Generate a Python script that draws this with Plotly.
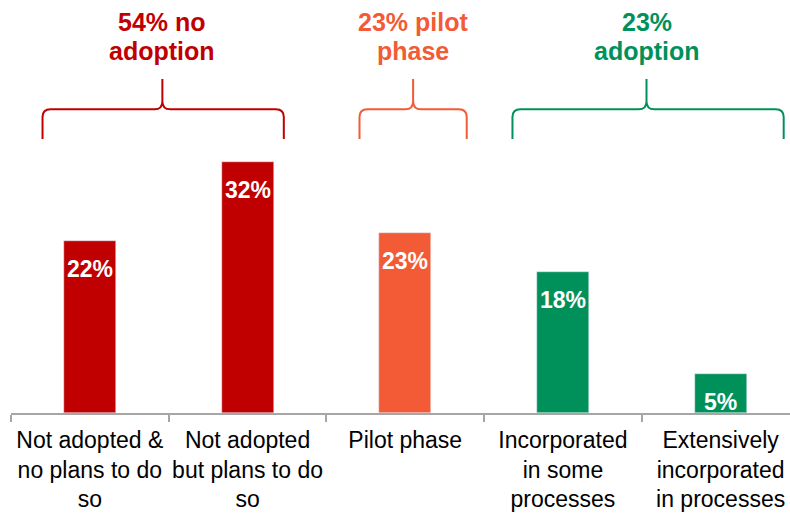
import plotly.graph_objects as go

# ---- data ----
categories = [
    "Not adopted &<br>no plans to do<br>so",
    "Not adopted<br>but plans to do<br>so",
    "Pilot phase",
    "Incorporated<br>in some<br>processes",
    "Extensively<br>incorporated<br>in processes",
]
values = [22, 32, 23, 18, 5]
bar_colors = ["#C00000", "#C00000", "#F25B36", "#00915A", "#00915A"]

group_line1 = ["54% no", "23% pilot", "23%"]
group_line2 = ["adoption", "phase", "adoption"]
group_colors = ["#C00000", "#F25B36", "#00915A"]
# brace extents in category units: (left, peak, right)
group_braces = [(-0.30, 0.46, 1.23), (1.71, 2.05, 2.39), (2.68, 3.53, 4.40)]

FONT = "Liberation Sans, Arial, sans-serif"

fig = go.Figure()
fig.add_trace(go.Bar(
    x=categories, y=values, marker_color=bar_colors, width=0.33,
    hoverinfo="skip", showlegend=False,
))

# value labels inside bars
for i, v in enumerate(values):
    fig.add_annotation(
        x=i, y=v, xref="x", yref="y", text=f"<b>{v}%</b>", showarrow=False,
        yanchor="top", yshift=-13,
        font=dict(family=FONT, size=23, color="white"),
    )

# braces and group labels
yb, yh, ypk = 35.0, 38.8, 42.65
rx, ry = 0.05, 1.0
for (x0, xp, x1), t1, t2, col in zip(group_braces, group_line1, group_line2, group_colors):
    path = (
        f"M {x0},{yb} L {x0},{yh-ry} Q {x0},{yh} {x0+rx},{yh} "
        f"L {xp-rx},{yh} Q {xp},{yh} {xp},{yh+ry} L {xp},{ypk} "
        f"M {xp},{yh+ry} Q {xp},{yh} {xp+rx},{yh} "
        f"L {x1-rx},{yh} Q {x1},{yh} {x1},{yh-ry} L {x1},{yb}"
    )
    fig.add_shape(type="path", path=path, xref="x", yref="y",
                  line=dict(color=col, width=2))
    fig.add_annotation(x=xp, y=51.8, xref="x", yref="y", text=f"<b>{t1}</b>",
                       showarrow=False, yanchor="top", borderpad=0,
                       font=dict(family=FONT, size=25, color=col))
    fig.add_annotation(x=xp, y=48.2, xref="x", yref="y", text=f"<b>{t2}</b>",
                       showarrow=False, yanchor="top", borderpad=0,
                       font=dict(family=FONT, size=25, color=col))

fig.update_layout(
    width=790, height=514,
    margin=dict(l=11, r=0, t=0, b=101),
    paper_bgcolor="white", plot_bgcolor="white",
    bargap=0,
    xaxis=dict(
        type="category", range=[-0.5, 4.44], tickson="boundaries",
        ticks="outside", ticklen=7, tickcolor="#A6A6A6", tickwidth=2,
        showline=True, linecolor="#A6A6A6", linewidth=2,
        showgrid=False, zeroline=False, tickangle=0, automargin=False,
        tickfont=dict(family=FONT, size=23, color="black"),
        ticklabelstandoff=5,
    ),
    yaxis=dict(range=[0, 52.75], visible=False, showgrid=False, zeroline=False,
               automargin=False),
)

fig.write_html("out.html")
